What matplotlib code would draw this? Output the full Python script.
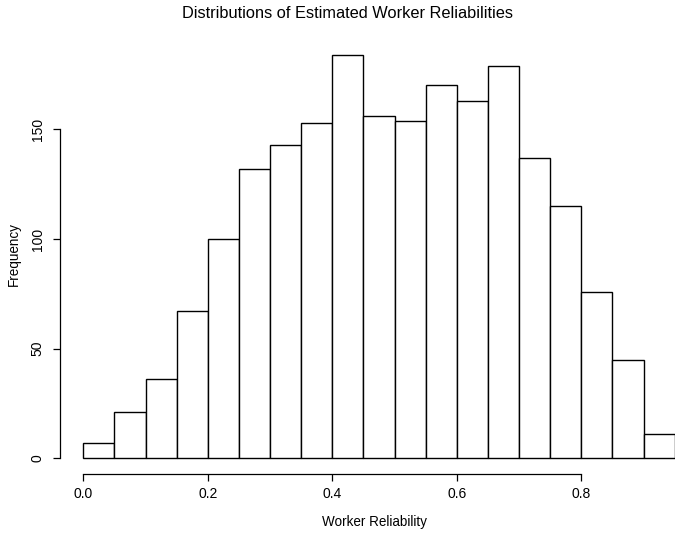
import numpy as np
import matplotlib
matplotlib.use("Agg")
import matplotlib.pyplot as plt

plt.rcParams['font.family'] = ['Liberation Sans', 'DejaVu Sans']

# histogram bins (width 0.05) and counts
bin_edges = [0.00, 0.05, 0.10, 0.15, 0.20, 0.25, 0.30, 0.35, 0.40, 0.45,
             0.50, 0.55, 0.60, 0.65, 0.70, 0.75, 0.80, 0.85, 0.90, 0.95]
counts = [7, 21, 36, 67, 100, 132, 143, 153, 184, 156,
          154, 170, 163, 179, 137, 115, 76, 45, 11]
x_ticks = [0.0, 0.2, 0.4, 0.6, 0.8]
y_ticks = [0, 50, 100, 150]

fig = plt.figure(figsize=(6.75, 5.36), dpi=100)
# plot region in pixels: left 60, right 675, bottom 474, top 38.5
ax = fig.add_axes([60 / 675, (536 - 474.3) / 536, 615 / 675, 435.8 / 536])

lefts = np.array(bin_edges[:-1])
widths = np.diff(bin_edges)
ax.bar(lefts, counts, width=widths, align='edge', color='white',
       edgecolor='black', linewidth=1.0)

ax.set_xlim(-0.0375, 0.9505)
ax.set_ylim(-7.3, 191.4)

for s in ['top', 'right']:
    ax.spines[s].set_visible(False)
ax.spines['left'].set_bounds(0, 150)
ax.spines['bottom'].set_bounds(0, 0.8)
ax.spines['left'].set_linewidth(0.9)
ax.spines['bottom'].set_linewidth(0.9)

ax.set_xticks(x_ticks)
ax.set_xticklabels(['0.0', '0.2', '0.4', '0.6', '0.8'])
ax.set_yticks(y_ticks)
ax.set_yticklabels([str(v) for v in y_ticks], rotation=90, va='center')
ax.tick_params(axis='both', direction='out', length=5, width=0.9,
               labelsize=10)
ax.tick_params(axis='x', pad=4)
ax.tick_params(axis='y', pad=6)

fig.text(348 / 675, 1 - 14 / 536,
         'Distributions of Estimated Worker Reliabilities',
         ha='center', va='center', fontsize=11.8)
fig.text(374 / 675, 1 - 522 / 536, 'Worker Reliability',
         ha='center', va='center', fontsize=9.75)
fig.text(14 / 675, 1 - 254 / 536, 'Frequency', rotation=90,
         ha='center', va='center', fontsize=9.75)

fig.savefig('out.png', dpi=100)
